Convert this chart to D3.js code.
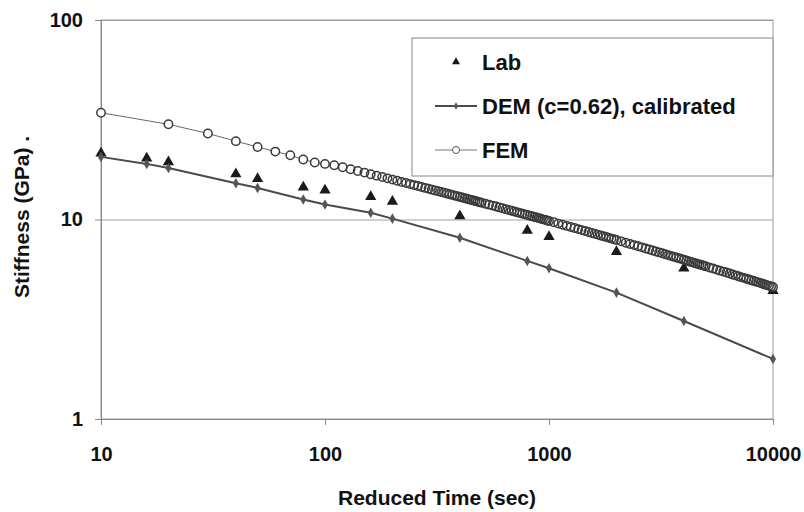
<!DOCTYPE html>
<html>
<head>
<meta charset="utf-8">
<script src="https://cdn.jsdelivr.net/npm/d3@7"></script>
<style>
  body { margin: 0; background: #fff; }
  text { font-family: "Liberation Sans", Arial, sans-serif; font-weight: bold; fill: #111; }
</style>
</head>
<body>
<svg></svg>
<script>
// data
const labTime = [10, 16, 20, 40, 50, 80, 100, 160, 200, 400, 800, 1000, 2000, 4000, 10000];
const labStiffness = [21.5, 20.3, 19.4, 16.9, 16.0, 14.5, 14.0, 13.0, 12.3, 10.4, 8.8, 8.2, 6.9, 5.7, 4.4];

const demTime = [10, 16, 20, 40, 50, 80, 100, 160, 200, 400, 800, 1000, 2000, 4000, 10000];
const demStiffness = [20.6, 19.0, 18.1, 15.2, 14.4, 12.6, 11.9, 10.8, 10.1, 8.1, 6.2, 5.7, 4.3, 3.1, 2.0];

const femTime = [
  10, 20, 30, 40, 50, 60, 70, 80, 90, 100,
  110, 120, 130, 140, 150, 160, 170, 180, 190, 200,
  210, 220, 230, 240, 250, 260, 270, 280, 290, 300,
  310, 320, 330, 340, 350, 360, 370, 380, 390, 400,
  410, 420, 430, 440, 450, 460, 470, 480, 490, 500,
  520, 540, 560, 580, 600, 620, 640, 660, 680, 700,
  720, 740, 760, 780, 800, 820, 840, 860, 880, 900,
  920, 940, 960, 980, 1000,
  1050, 1100, 1150, 1200, 1250, 1300, 1350, 1400, 1450, 1500,
  1550, 1600, 1650, 1700, 1750, 1800, 1850, 1900, 1950, 2000,
  2100, 2200, 2300, 2400, 2500, 2600, 2700, 2800, 2900, 3000,
  3100, 3200, 3300, 3400, 3500, 3600, 3700, 3800, 3900, 4000,
  4100, 4200, 4300, 4400, 4500, 4600, 4700, 4800, 4900, 5000,
  5200, 5400, 5600, 5800, 6000, 6200, 6400, 6600, 6800, 7000,
  7200, 7400, 7600, 7800, 8000, 8200, 8400, 8600, 8800, 9000,
  9200, 9400, 9600, 9800, 10000
];
const femStiffness = [
  34.3, 30.0, 27.0, 24.7, 23.1, 21.9, 21.0, 20.0, 19.3, 19.0,
  18.71, 18.27, 17.87, 17.51, 17.18, 16.87, 16.59, 16.33, 16.08, 15.85,
  15.63, 15.43, 15.23, 15.05, 14.87, 14.71, 14.55, 14.40, 14.25, 14.11,
  13.98, 13.85, 13.73, 13.61, 13.49, 13.38, 13.28, 13.17, 13.07, 12.97,
  12.88, 12.79, 12.70, 12.61, 12.53, 12.45, 12.37, 12.29, 12.22, 12.14,
  12.00, 11.87, 11.74, 11.61, 11.50, 11.38, 11.27, 11.17, 11.07, 10.97,
  10.88, 10.79, 10.70, 10.61, 10.53, 10.45, 10.38, 10.30, 10.23, 10.16,
  10.09, 10.02, 9.96, 9.89, 9.83,
  9.68, 9.54, 9.41, 9.29, 9.17, 9.06, 8.95, 8.85, 8.75, 8.65,
  8.56, 8.48, 8.40, 8.32, 8.24, 8.17, 8.09, 8.02, 7.96, 7.89,
  7.77, 7.65, 7.54, 7.44, 7.34, 7.25, 7.16, 7.07, 6.99, 6.91,
  6.84, 6.77, 6.70, 6.63, 6.57, 6.51, 6.45, 6.39, 6.34, 6.28,
  6.23, 6.18, 6.13, 6.08, 6.04, 5.99, 5.95, 5.91, 5.87, 5.83,
  5.75, 5.68, 5.61, 5.54, 5.48, 5.42, 5.36, 5.30, 5.25, 5.19,
  5.14, 5.10, 5.05, 5.00, 4.96, 4.92, 4.88, 4.84, 4.80, 4.76,
  4.72, 4.69, 4.65, 4.62, 4.59
];

const xTicks = [10, 100, 1000, 10000];
const yTicks = [1, 10, 100];
const seriesNames = ['Lab', 'DEM (c=0.62), calibrated', 'FEM'];

const width = 804;
const height = 512;
const plotLeft = 101, plotRight = 773, plotTop = 20, plotBottom = 419;

const svg = d3.select('svg')
    .attr('width', width)
    .attr('height', height);

const xScale = d3.scaleLog()
    .domain([10, 10000])
    .range([plotLeft, plotRight]);
const yScale = d3.scaleLog()
    .domain([1, 100])
    .range([plotBottom, plotTop]);

const lab = labTime.map((t, i) => ({ t, s: labStiffness[i] }));
const dem = demTime.map((t, i) => ({ t, s: demStiffness[i] }));
const fem = femTime.map((t, i) => ({ t, s: femStiffness[i] }));

// gridlines
const grid = svg.append('g')
    .attr('transform', `translate(${plotLeft}, 0)`)
    .call(d3.axisLeft(yScale).tickValues(yTicks).tickSize(-(plotRight - plotLeft)).tickFormat(''));
grid.select('.domain').remove();
grid.selectAll('line').attr('stroke', '#a0a0a0');

// plot frame
svg.append('rect')
    .attr('x', plotLeft)
    .attr('y', plotTop)
    .attr('width', plotRight - plotLeft)
    .attr('height', plotBottom - plotTop)
    .attr('fill', 'none')
    .attr('stroke', '#999');

const xAxis = svg.append('g')
    .attr('transform', `translate(0, ${plotBottom})`)
    .call(d3.axisBottom(xScale).tickValues(xTicks).tickFormat(d3.format('d')).tickSize(6).tickPadding(22));
const yAxis = svg.append('g')
    .attr('transform', `translate(${plotLeft}, 0)`)
    .call(d3.axisLeft(yScale).tickValues(yTicks).tickFormat(d3.format('d')).tickSize(6).tickPadding(12));

[xAxis, yAxis].forEach(a => {
  a.select('.domain').attr('stroke', '#888');
  a.selectAll('line').attr('stroke', '#888');
  a.selectAll('text')
    .style('font-size', '20px')
    .style('font-family', '"Liberation Sans", Arial, sans-serif')
    .style('font-weight', 'bold')
    .attr('fill', '#111');
});

const line = d3.line()
    .x(d => xScale(d.t))
    .y(d => yScale(d.s));

// Lab
svg.append('g')
  .selectAll('path')
  .data(lab)
  .enter()
  .append('path')
    .attr('transform', d => `translate(${xScale(d.t)}, ${yScale(d.s)})`)
    .attr('d', d3.symbol(d3.symbolTriangle, 55))
    .attr('fill', '#1a1a1a');

// DEM
svg.append('path')
    .datum(dem)
    .attr('d', line)
    .attr('fill', 'none')
    .attr('stroke', '#4a4a4a')
    .attr('stroke-width', 2);
svg.append('g')
  .selectAll('path')
  .data(dem)
  .enter()
  .append('path')
    .attr('transform', d => `translate(${xScale(d.t)}, ${yScale(d.s)})`)
    .attr('d', d3.symbol(d3.symbolDiamond, 32))
    .attr('fill', '#555');

// FEM: white fills first, then every outline on top
svg.append('path')
    .datum(fem)
    .attr('d', line)
    .attr('fill', 'none')
    .attr('stroke', '#666')
    .attr('stroke-width', 1);
svg.append('g')
  .selectAll('circle')
  .data(fem)
  .enter()
  .append('circle')
    .attr('cx', d => xScale(d.t))
    .attr('cy', d => yScale(d.s))
    .attr('r', 4.2)
    .attr('fill', '#fff');
svg.append('g')
  .selectAll('circle')
  .data(fem)
  .enter()
  .append('circle')
    .attr('cx', d => xScale(d.t))
    .attr('cy', d => yScale(d.s))
    .attr('r', 4.2)
    .attr('fill', 'none')
    .attr('stroke', '#3a3a3a')
    .attr('stroke-width', 1.5);

// legend
const legend = svg.append('g');
legend.append('rect')
    .attr('x', 412)
    .attr('y', 38)
    .attr('width', plotRight - 412)
    .attr('height', 138)
    .attr('fill', '#fff')
    .attr('stroke', '#888');

const rows = legend.selectAll('g.row')
  .data(seriesNames)
  .enter()
  .append('g')
    .attr('class', 'row')
    .attr('transform', (d, i) => `translate(456, ${62 + i * 44})`);

rows.filter((d, i) => i > 0)
  .append('line')
    .attr('x1', -21)
    .attr('x2', 21)
    .attr('stroke', (d, i) => i === 0 ? '#4a4a4a' : '#777')
    .attr('stroke-width', (d, i) => i === 0 ? 2 : 1);

rows.append('path')
    .attr('d', (d, i) => i === 0 ? d3.symbol(d3.symbolTriangle, 28)() : i === 1 ? d3.symbol(d3.symbolDiamond, 16)() : null)
    .attr('fill', (d, i) => i === 0 ? '#1a1a1a' : '#555');

rows.filter((d, i) => i === 2)
  .append('circle')
    .attr('r', 3.5)
    .attr('fill', '#fff')
    .attr('stroke', '#555');

rows.append('text')
    .attr('x', 26)
    .attr('dy', '0.36em')
    .style('font-size', '22px')
    .text(d => d);

// axis titles
svg.append('text')
    .attr('x', (plotLeft + plotRight) / 2)
    .attr('y', 505)
    .style('text-anchor', 'middle')
    .style('font-size', '21px')
    .text('Reduced Time (sec)');

svg.append('text')
    .attr('transform', 'rotate(-90)')
    .attr('x', -217)
    .attr('y', 29)
    .style('text-anchor', 'middle')
    .style('font-size', '21px')
    .text('Stiffness (GPa) .');
</script>
</body>
</html>
